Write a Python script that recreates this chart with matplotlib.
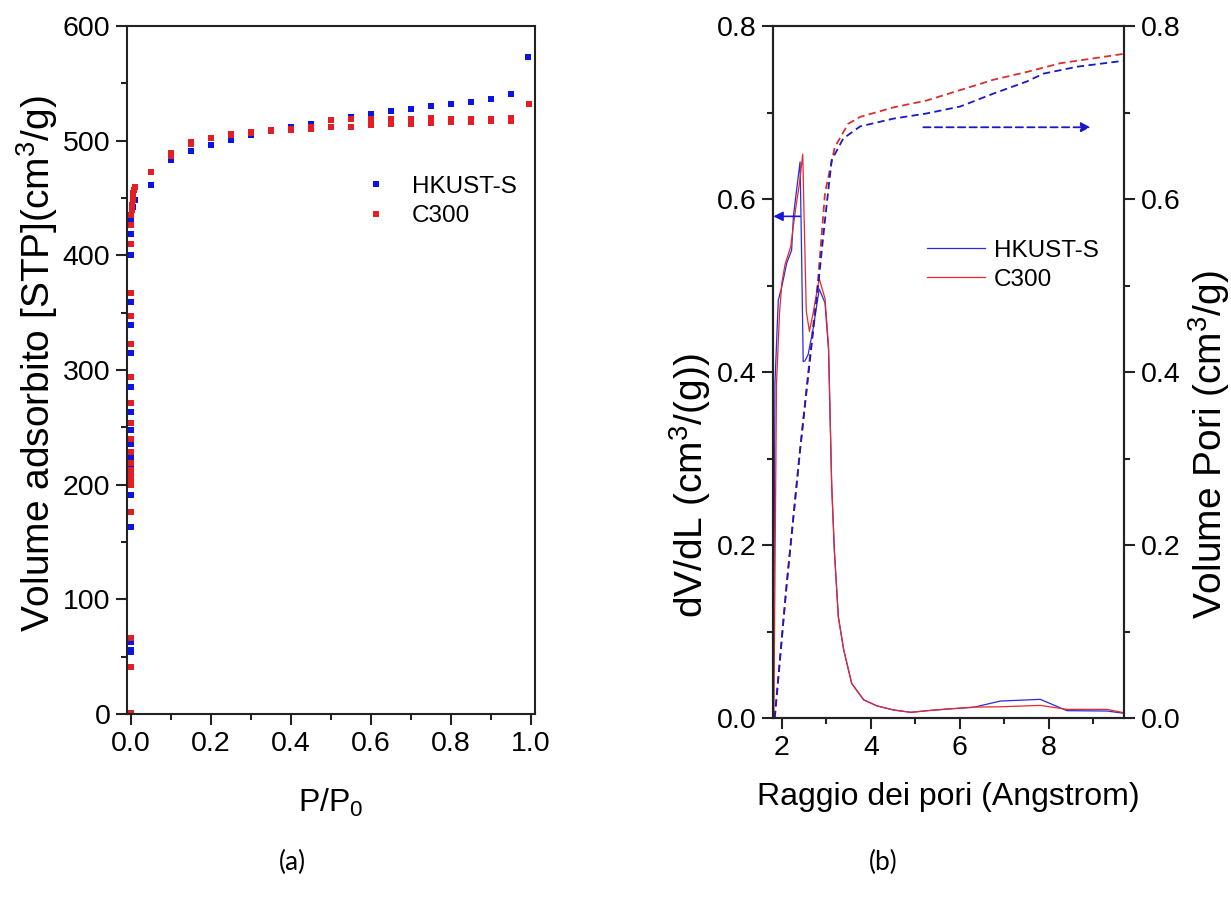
import matplotlib
matplotlib.use('Agg')
import matplotlib.pyplot as plt
from matplotlib.ticker import MultipleLocator

plt.rcParams['font.family'] = ['Liberation Sans', 'DejaVu Sans']
plt.rcParams['mathtext.fontset'] = 'custom'
plt.rcParams['mathtext.rm'] = 'Liberation Sans'
plt.rcParams['mathtext.it'] = 'Liberation Sans:italic'

# --- (a) isoterme di adsorbimento ---
hk_p = [0.0, 0.0, 0.0, 0.0, 0.0, 0.0, 0.0, 0.0, 0.0, 0.0, 0.0, 0.0, 0.0,
        0.0, 0.0, 0.0, 0.0, 0.0, 0.0, 0.005, 0.01,
        0.05, 0.1, 0.15, 0.2, 0.25, 0.3, 0.35, 0.4, 0.45, 0.5, 0.55, 0.6,
        0.65, 0.7, 0.75, 0.8, 0.85, 0.9, 0.95, 0.993]
hk_v = [53.8, 55.8, 63, 162.8, 191, 204.7, 209.9, 216.3, 224.4, 235.2,
        247.7, 263.7, 285.5, 314.6, 339.2, 359.6, 400.3, 418.6, 430.8, 442, 448,
        461, 483, 491, 496.5, 500.5, 505, 508.5, 512, 515, 518, 521, 523,
        525.6, 528, 530, 532, 534, 536, 540.7, 572.7]

c3_p = [0.0, 0.0, 0.0, 0.0, 0.0, 0.0, 0.0, 0.0, 0.0, 0.0, 0.0, 0.0, 0.0,
        0.0, 0.0, 0.0, 0.0, 0.0, 0.0, 0.001, 0.002, 0.003, 0.004, 0.005,
        0.006, 0.008, 0.01,
        0.05, 0.1, 0.15, 0.2, 0.25, 0.3, 0.35, 0.4, 0.45, 0.5, 0.55, 0.6,
        0.65, 0.7, 0.75, 0.8, 0.85, 0.9, 0.95, 0.995]
c3_v = [0.6, 41.2, 66, 176.4, 199.7, 203.5, 207.6, 212.8, 218.6, 228.7,
        239.5, 254, 271.5, 294.2, 322.4, 347.4, 367.4, 409.9, 426.4, 435,
        440, 444, 448, 451, 454, 457, 460,
        473, 486.6, 497, 502, 505, 507, 508.7, 509.5, 510.5, 511.6, 512.2,
        514, 514.8, 515, 515.3, 516, 516, 517, 517.4, 532]
# ramo di desorbimento C300
c3_des_p = [0.95, 0.9, 0.85, 0.8, 0.75, 0.7, 0.65, 0.6, 0.55, 0.5, 0.45,
            0.4, 0.35, 0.3, 0.25, 0.2, 0.15, 0.1]
c3_des_v = [519.4, 519, 518.6, 519, 519.6, 519, 519, 519, 518.6, 518, 512,
            510.5, 509, 507.5, 505.5, 502.5, 498.5, 489.5]

# --- (b) distribuzione dei pori ---
hk_r = [1.81, 1.845, 1.92, 2.0, 2.11, 2.22, 2.26, 2.33, 2.41, 2.44, 2.48,
        2.52, 2.59, 2.71, 2.84, 2.97, 3.05, 3.12, 3.18, 3.27, 3.39, 3.57,
        3.84, 4.14, 4.51, 4.9, 5.27, 5.72, 6.3, 6.91, 7.81, 8.41, 9.31, 9.7]
hk_dv = [0.0, 0.387, 0.483, 0.499, 0.526, 0.541, 0.58, 0.61, 0.643, 0.55,
         0.412, 0.413, 0.42, 0.452, 0.496, 0.48, 0.425, 0.27, 0.194, 0.117,
         0.079, 0.040, 0.021, 0.014, 0.0093, 0.0066, 0.0085, 0.0104, 0.0123,
         0.0196, 0.0216, 0.0085, 0.0081, 0.0054]

c3_r = [1.82, 1.88, 1.95, 2.0, 2.07, 2.2, 2.3, 2.4, 2.47, 2.5, 2.55, 2.62,
        2.71, 2.84, 2.97, 3.05, 3.12, 3.18, 3.27, 3.39, 3.57, 3.84, 4.14,
        4.51, 4.9, 5.27, 5.72, 6.3, 6.91, 7.81, 8.41, 9.31, 9.7]
c3_dv = [0.0, 0.387, 0.47, 0.503, 0.524, 0.545, 0.585, 0.62, 0.652, 0.58,
         0.47, 0.447, 0.47, 0.508, 0.485, 0.43, 0.27, 0.194, 0.117, 0.079,
         0.040, 0.021, 0.014, 0.0093, 0.0066, 0.0085, 0.0104, 0.0126, 0.013,
         0.0146, 0.010, 0.010, 0.006]

hk_cum_r = [1.84, 2.1, 2.41, 2.82, 2.97, 3.12, 3.38, 3.76, 4.51, 5.26,
            6.01, 6.76, 7.51, 7.88, 8.64, 9.7]
hk_cum_v = [0.0, 0.15, 0.31, 0.502, 0.576, 0.645, 0.670, 0.684, 0.693,
            0.699, 0.707, 0.722, 0.736, 0.745, 0.753, 0.760]
c3_cum_r = [1.84, 2.1, 2.41, 2.82, 2.97, 3.19, 3.49, 3.76, 4.51, 5.26,
            6.01, 6.76, 7.51, 8.26, 9.7]
c3_cum_v = [0.0, 0.15, 0.31, 0.51, 0.607, 0.660, 0.687, 0.695, 0.706,
            0.714, 0.726, 0.738, 0.747, 0.757, 0.768]

blu = '#0a14e6'
rosso = '#e31e24'

fig = plt.figure(figsize=(12.31, 9.05), dpi=100)
axa = fig.add_axes([0.1032, 0.2110, 0.3314, 0.7602])
axb = fig.add_axes([0.6279, 0.2066, 0.2855, 0.7646])
axc = axb.twinx()

ms = 3.8
axa.plot(hk_p, hk_v, 's', color=blu, ms=ms, mew=0, label='HKUST-S')
axa.plot(c3_p, c3_v, 's', color=rosso, ms=ms, mew=0, label='C300')
axa.plot(c3_des_p, c3_des_v, 's', color=rosso, ms=ms, mew=0)
axa.set_xlim(-0.01, 1.01)
axa.set_ylim(0, 600)
axa.xaxis.set_major_locator(MultipleLocator(0.2))
axa.xaxis.set_minor_locator(MultipleLocator(0.1))
axa.yaxis.set_major_locator(MultipleLocator(100))
axa.yaxis.set_minor_locator(MultipleLocator(50))
axa.xaxis.set_major_formatter(plt.FuncFormatter(lambda v, p: '%.1f' % v))
axa.set_xlabel('P/P$_{0}$', fontsize=23, labelpad=22)
axa.set_ylabel('Volume adsorbito [STP](cm$^{3}$/g)', fontsize=28)
axa.yaxis.set_label_coords(-0.165, 0.51)
axa.legend(loc='upper left', bbox_to_anchor=(0.55, 0.80), frameon=False,
           fontsize=17.5, handlelength=1.0, handletextpad=1.0, labelspacing=0.3,
           borderpad=0, markerscale=1.2)

axb.plot(hk_r, hk_dv, '-', color='#2a2ae0', lw=0.9, label='HKUST-S')
axb.plot(c3_r, c3_dv, '-', color='#e8282a', lw=0.9, label='C300')
axc.plot(c3_cum_r, c3_cum_v, '--', color='#d83030', lw=1.3, dashes=(4, 2.4))
axc.plot(hk_cum_r, hk_cum_v, '--', color='#1818c8', lw=1.3, dashes=(4, 2.4))
axb.set_xlim(1.8, 9.7)
axb.set_ylim(0, 0.8)
axc.set_ylim(0, 0.8)
axb.xaxis.set_major_locator(MultipleLocator(2))
axb.xaxis.set_minor_locator(MultipleLocator(1))
for ax in (axb, axc):
    ax.yaxis.set_major_locator(MultipleLocator(0.2))
    ax.yaxis.set_minor_locator(MultipleLocator(0.1))
    ax.yaxis.set_major_formatter(plt.FuncFormatter(lambda v, p: '%.1f' % v))
axb.set_xlabel('Raggio dei pori (Angstrom)', fontsize=23, labelpad=15)
axb.set_ylabel('dV/dL (cm$^{3}$/(g))', fontsize=28)
axb.yaxis.set_label_coords(-0.17, 0.335)
axc.set_ylabel('Volume Pori (cm$^{3}$/g)', fontsize=28, rotation=90)
axc.yaxis.set_label_coords(1.175, 0.395)
axb.legend(loc='upper left', bbox_to_anchor=(0.403, 0.709), frameon=False,
           fontsize=17.5, handlelength=2.4, handletextpad=0.35, labelspacing=0.3,
           borderpad=0)

# frecce
axb.annotate('', xy=(1.81, 0.58), xytext=(2.41, 0.58),
             arrowprops=dict(arrowstyle='-|>', color='#1818e0', lw=1.2,
                             mutation_scale=14, shrinkA=0, shrinkB=0))
axc.annotate('', xy=(8.94, 0.683), xytext=(5.18, 0.683),
             arrowprops=dict(arrowstyle='-|>', color='#1818c8', lw=1.3,
                             ls=(0, (4, 2.4)), mutation_scale=14, shrinkA=0, shrinkB=0))

for ax in (axa, axb, axc):
    for s in ax.spines.values():
        s.set_linewidth(1.5)
        s.set_color('#222222')
    ax.tick_params(which='both', direction='out', width=1.5, labelsize=20.5,
                   colors='#222222', labelcolor='black')
    ax.tick_params(which='major', length=8, pad=4)
    ax.tick_params(which='minor', length=4.5)
axa.tick_params(which='both', top=False, right=False)
axb.tick_params(which='both', top=False, right=False)
axc.tick_params(which='both', top=False, left=False, right=True)

fig.text(292 / 1231, 1 - 862 / 905, '(a)', fontsize=19, family='Lato',
         ha='center', va='center')
fig.text(883 / 1231, 1 - 862 / 905, '(b)', fontsize=19, family='Lato',
         ha='center', va='center')

fig.savefig('out.png', dpi=100)
